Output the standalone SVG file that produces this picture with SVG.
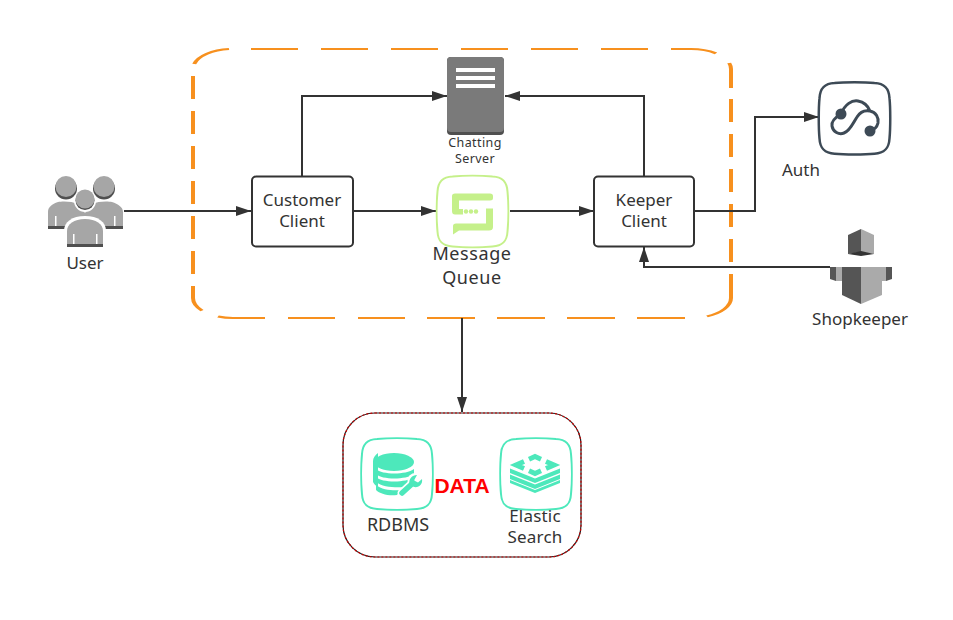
<svg xmlns="http://www.w3.org/2000/svg" xmlns:xlink="http://www.w3.org/1999/xlink" width="953" height="620" viewBox="0 0 953 620">
<style>
text{font-family:"Noto Sans","Open Sans","DejaVu Sans",sans-serif;fill:#333;text-anchor:middle}
.t17{font-size:17px}.t18{font-size:18px}.t17w{font-size:17px;letter-spacing:.2px}.t18w{font-size:18px;letter-spacing:.6px}.t13{font-size:12.500px;letter-spacing:.4px}
.box{fill:#fff;stroke:#333;stroke-width:2}
.conn{fill:none;stroke:#333;stroke-width:2}
.teal{fill:#4de8bb}
.lime{fill:#c5f08a}
</style>
<defs>
<marker id="arr" markerUnits="userSpaceOnUse" markerWidth="16" markerHeight="12" refX="15" refY="6" orient="auto"><path d="M0 1 L15 6 L0 11Z" fill="#333"/></marker>
<path id="sq" d="M16 1C26 0 46 0 56 1C66 1.500 70.500 6 71 16C72 26 72 46 71 56C70.500 66 66 70.500 56 71C46 72 26 72 16 71C6 70.500 1.500 66 1 56C0 46 0 26 1 16C1.500 6 6 1.500 16 1Z"/>
</defs>
<g id="boundary-main"><path transform="scale(2 1)" fill="none" stroke="#f7901e" stroke-width="2" d="M97.100 64A20 20 0 0 1 114.500 49.100M125.500 49H149M160.500 49H184M195.500 49H219M230.500 49H254M265.500 49H289M300.500 49H324M335.500 49H345.500A20 20 0 0 1 358 53.400M364.600 63A20 20 0 0 1 365.500 69V88M365.500 99V122M365.500 134V157M365.500 169V192M365.500 204V227M365.500 239V262M365.500 274V298A20 20 0 0 1 353.500 316.300M342.500 318H318.500M307.500 318H283.500M272.500 318H248.500M237.500 318H213.500M202.500 318H179M167.500 318H144M132.500 318H116.500A20 20 0 0 1 109 316.500M101 310.600A20 20 0 0 1 96.500 298V286M96.500 274V251M96.500 239V216M96.500 204V181M96.500 169V146M96.500 134V111M96.500 99V76"/></g>
<g id="boundary-data"><rect x="343" y="413" width="238" height="144" rx="32" fill="#fff" stroke="#222" stroke-width="1.200"/><rect x="343" y="413" width="238" height="144" rx="32" fill="none" stroke="#c00" stroke-width="1.200" stroke-dasharray="2 2"/></g>
<g id="connectors">
<path class="conn" d="M124 211H251" marker-end="url(#arr)"/>
<path class="conn" d="M302 176V96H447" marker-end="url(#arr)"/>
<path class="conn" d="M644 176V96H505" marker-end="url(#arr)"/>
<path class="conn" d="M353 211H436" marker-end="url(#arr)"/>
<path class="conn" d="M510 211H594" marker-end="url(#arr)"/>
<path class="conn" d="M694 211H755V117H819" marker-end="url(#arr)"/>
<path class="conn" d="M830 267H644V247" marker-end="url(#arr)"/>
<path class="conn" d="M462 318V412" marker-end="url(#arr)"/>
</g>
<g id="user">
<circle cx="66" cy="188.500" r="11" fill="#4f4f4f"/><circle cx="66" cy="186.500" r="10.500" fill="#a6a6a6"/>
<circle cx="104" cy="188.500" r="11" fill="#4f4f4f"/><circle cx="104" cy="186.500" r="10.500" fill="#a6a6a6"/>
<path d="M48 228V212C48 207 52 204 58 202C62 201 72 201 78 204L85 213L92 204C98 201 108 201 112 202C118 204 123 207 123 212V228Z" fill="#a6a6a6"/>
<path d="M48 226H67V229H48ZM104 226H123V229H104Z" fill="#4f4f4f"/>
<path d="M55 216h1.500v10H55ZM114 216h1.500v10H114Z" fill="#fff"/>
<circle cx="85" cy="201" r="11" fill="#fff"/><circle cx="85" cy="200.500" r="9.500" fill="#4f4f4f"/><circle cx="85" cy="199" r="9.500" fill="#a6a6a6"/>
<path d="M64 249V231C64 222 72 216 85 216C98 216 106 222 106 231V249Z" fill="#fff"/>
<path d="M67 247V231C67 224 74 219 85 219C96 219 103 224 103 231V247Z" fill="#a6a6a6"/>
<path d="M67 244H103V247H67Z" fill="#4f4f4f"/>
<path d="M73 234h1.500v10H73ZM96 234h1.500v10H96Z" fill="#fff"/>
<text class="t17" x="85" y="269">User</text>
</g>
<g id="customer-client"><rect class="box" x="252" y="176.500" width="101" height="70" rx="4"/><text class="t17" x="302" y="206">Customer</text><text class="t17" x="302" y="227">Client</text></g>
<g id="chatting-server">
<rect x="447" y="57" width="57" height="78" rx="4" fill="#4f4f4f"/>
<path d="M451 57H500Q504 57 504 61V128Q504 132 500 132H451Q447 132 447 128V61Q447 57 451 57Z" fill="#7a7a7a"/>
<path d="M456 68h39v4h-39ZM456 76h39v4h-39ZM456 84h39v4h-39Z" fill="#fff"/>
<text class="t13" x="475" y="147">Chatting</text><text class="t13" x="475" y="163">Server</text>
</g>
<g id="message-queue">
<use xlink:href="#sq" href="#sq" transform="translate(436.500 175.500)" fill="#fff" stroke="#c5f08a" stroke-width="2"/>
<path class="lime" d="M455 193.500H490Q493 193.500 493 196V198Q493 200.500 490 200.500H459V209H463V214.500H455Q452 214.500 452 211V196Q452 193.500 455 193.500Z"/>
<path class="lime" d="M486 208.500H493V227Q493 230.500 489 230.500H459L453 234.500V226Q453 223.500 456 223.500H486Z"/>
<circle class="lime" cx="466" cy="211.500" r="2.200"/><circle class="lime" cx="471" cy="211.500" r="2.200"/><circle class="lime" cx="476" cy="211.500" r="2.200"/>
<text class="t18w" x="472" y="259.500">Message</text><text class="t18w" x="472" y="284">Queue</text>
</g>
<g id="keeper-client"><rect class="box" x="594" y="176.500" width="100" height="70" rx="4"/><text class="t17" x="644" y="206">Keeper</text><text class="t17" x="644" y="227">Client</text></g>
<g id="auth">
<use xlink:href="#sq" href="#sq" transform="translate(818.500 82) scale(1 1.010)" fill="#fff" stroke="#3d4a56" stroke-width="2.500"/>
<path d="M841 114C845 104 852 100 858 101C864 102 868 106 870 111C876 112 879 118 878 123C877 127 874 130 870 131M841 114C836 117 831 121 832 126C833 132 839 135 844 133C850 131 853 123 857 117C860 112 865 110 870 111" fill="none" stroke="#3d4a56" stroke-width="3"/>
<circle cx="841" cy="114" r="5.500" fill="#3d4a56"/><circle cx="870" cy="131" r="5.500" fill="#3d4a56"/>
<text class="t17" x="801" y="176">Auth</text>
</g>
<g id="shopkeeper">
<path d="M861 229L848 235V254L861 252Z" fill="#555"/><path d="M861 229L874 235V254L861 252Z" fill="#aaa"/><path d="M848 254L861 251L874 254L861 256Z" fill="#333"/>
<path d="M830 267H836V281L830 279Z" fill="#555"/><path d="M836 267H842V281H836Z" fill="#aaa"/>
<path d="M882 267H886V281H882Z" fill="#aaa"/><path d="M886 267H892V279L886 281Z" fill="#555"/>
<path d="M842 267H861V304L842 295Z" fill="#555"/><path d="M861 267H882V295L861 304Z" fill="#aaa"/>
<text class="t17" x="860" y="325">Shopkeeper</text>
</g>
<g id="rdbms">
<use xlink:href="#sq" href="#sq" transform="translate(361 438)" fill="#fff" stroke="#4de8bb" stroke-width="2"/>
<path class="teal" d="M378 453C375 455 373 458 373 461V482C374 484 376 486 378 487Z"/>
<ellipse class="teal" cx="394" cy="462" rx="20" ry="9"/>
<path class="teal" d="M376 469C382 475 406 475 414 469V474C406 480 382 480 376 474Z"/>
<path class="teal" d="M376 477C382 483 406 483 414 477V482C412 484 408 486 404 487C396 488 382 487 376 482Z"/>
<path class="teal" d="M376 485C382 490 394 491 401 490L397 495C388 496 380 494 376 490Z"/>
<path d="M402 493L413 483" fill="none" stroke="#fff" stroke-width="9" stroke-linecap="round"/>
<circle cx="415.500" cy="481" r="8" fill="#fff"/>
<path d="M402 493L413 483" fill="none" stroke="#4de8bb" stroke-width="5.500" stroke-linecap="round"/>
<path class="teal" d="M417 475C412 475 408.500 479 409.500 484L414 487C419 488 423 484 422 479L418 482.500L414 480.500Z"/>
<text class="t18" x="398" y="531">RDBMS</text>
</g>
<g id="elastic-search">
<use xlink:href="#sq" href="#sq" transform="translate(500 438)" fill="#fff" stroke="#4de8bb" stroke-width="2"/>
<path class="teal" d="M510 468.500L535 478.500L560 468.500V473L535 483L510 473Z"/>
<path class="teal" d="M510 474.500L535 484.500L560 474.500V479L535 489L510 479Z"/>
<path class="teal" d="M510 480L535 490L560 480V483L535 493L510 483Z"/>
<path fill="none" stroke="#fff" stroke-width="8" d="M516 465L535 456.500L554 465L535 473.500Z"/>
<path fill="none" stroke="#4de8bb" stroke-width="5" d="M529 459.200L535 456.500L541 459.200M546 461.500L554 465L546 468.500M541 470.800L535 473.500L529 470.800M524 468.500L516 465L524 461.500"/>
<text class="t17w" x="535" y="522">Elastic</text><text class="t17w" x="535" y="543">Search</text>
</g>
<text x="462" y="493" style="font-family:'Liberation Sans',Arial,sans-serif;font-size:21px;font-weight:bold;fill:#f00">DATA</text>
</svg>
